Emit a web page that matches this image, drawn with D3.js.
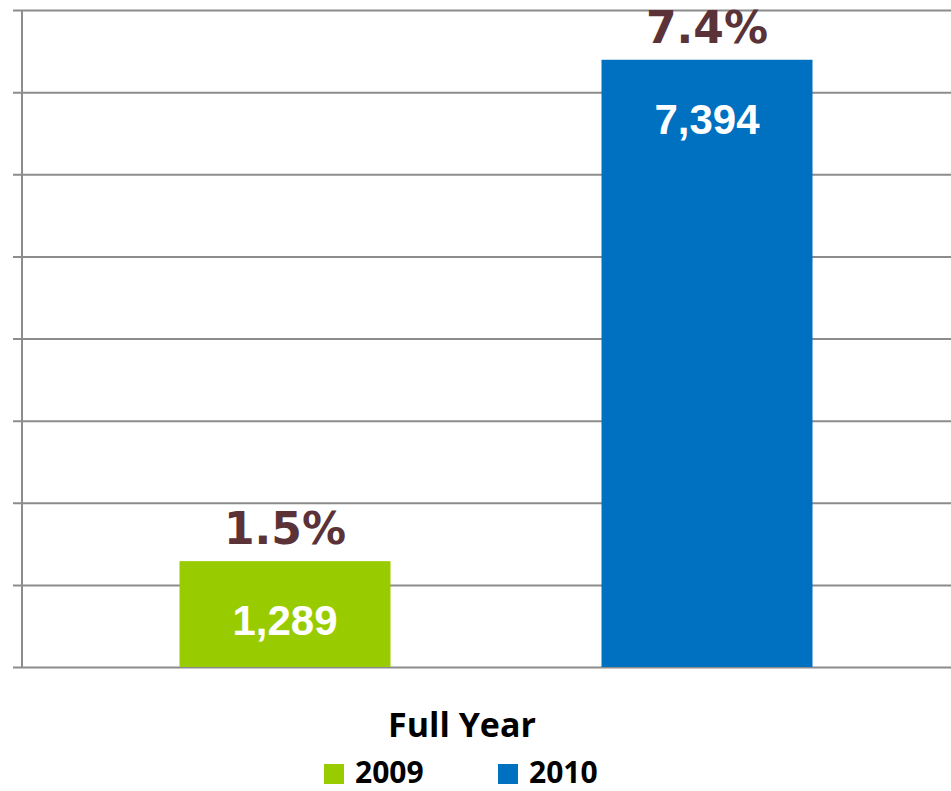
<!DOCTYPE html>
<html>
<head>
<meta charset="utf-8">
<script src="https://cdn.jsdelivr.net/npm/d3@7"></script>
<style>
  body { margin: 0; background: #fff; }
  svg { display: block; }
</style>
</head>
<body>
<svg id="chart"></svg>
<script>
// chart data
const years = ["2009", "2010"];
const values = [1289, 7394];
const pctLabels = ["1.5%", "7.4%"];
const yTicks = [0, 1000, 2000, 3000, 4000, 5000, 6000, 7000, 8000];
const categoryLabel = "Full Year";
const colors = ["#99cc00", "#0070c0"];

(function() {
  const width = 951,
        height = 791;
  const axisX = 22,
        baseY = 667,
        topY = 10;

  const svg = d3.select('#chart')
    .attr('width', width)
    .attr('height', height);

  const y = d3.scaleLinear()
    .domain([0, 8000])
    .range([baseY, topY]);

  const x = d3.scaleBand()
    .domain(years)
    .range([74, 918])
    .paddingInner(0.5)
    .paddingOuter(0.25);

  // gridlines + little ticks on the left
  const yAxis = svg.append('g')
    .attr('transform', `translate(${axisX},0)`)
    .call(d3.axisLeft(y).tickValues(yTicks).tickSize(0).tickFormat(''));

  yAxis.selectAll('.tick line')
    .attr('x1', -9)
    .attr('x2', width - axisX)
    .attr('stroke', '#8c8c8c')
    .attr('stroke-width', 2);

  yAxis.select('.domain')
    .attr('d', `M0,${topY}V${baseY}`)
    .attr('stroke', '#8c8c8c')
    .attr('stroke-width', 2);

  const bar = svg.selectAll('g.bar')
    .data(years)
    .enter().append('g')
      .attr('class', 'bar');

  bar.append('rect')
    .attr('x', d => x(d))
    .attr('y', (d, i) => y(values[i]))
    .attr('width', x.bandwidth())
    .attr('height', (d, i) => baseY - y(values[i]))
    .attr('fill', (d, i) => colors[i]);

  // percentage above the bar
  bar.append('text')
    .attr('x', d => x(d) + x.bandwidth() / 2)
    .attr('y', (d, i) => y(values[i]) - 17)
    .attr('text-anchor', 'middle')
    .style('font-family', '"DejaVu Sans", sans-serif')
    .style('font-weight', 'bold')
    .style('font-size', '44px')
    .attr('fill', '#5a3237')
    .text((d, i) => pctLabels[i]);

  // value inside the bar
  bar.append('text')
    .attr('x', d => x(d) + x.bandwidth() / 2)
    .attr('y', (d, i) => y(values[i]) + 74)
    .attr('text-anchor', 'middle')
    .style('font-family', '"Liberation Sans", Arial, sans-serif')
    .style('font-weight', 'bold')
    .style('font-size', '42px')
    .attr('fill', '#fff')
    .text((d, i) => d3.format(',')(values[i]));

  // category label
  svg.append('text')
    .attr('x', 462)
    .attr('y', 737)
    .attr('text-anchor', 'middle')
    .style('font-family', '"Open Sans", sans-serif')
    .style('font-weight', 'bold')
    .style('font-size', '34px')
    .attr('fill', '#000')
    .text(categoryLabel);

  // legend
  const legendX = [324, 498];
  const legend = svg.selectAll('g.legend')
    .data(years)
    .enter().append('g')
      .attr('class', 'legend')
      .attr('transform', (d, i) => `translate(${legendX[i]},764)`);

  legend.append('rect')
    .attr('width', 20)
    .attr('height', 20)
    .attr('fill', (d, i) => colors[i]);

  legend.append('text')
    .attr('x', 31)
    .attr('y', 19)
    .style('font-family', '"Open Sans", sans-serif')
    .style('font-weight', 'bold')
    .style('font-size', '30px')
    .attr('fill', '#000')
    .text(d => d);
})();
</script>
</body>
</html>
